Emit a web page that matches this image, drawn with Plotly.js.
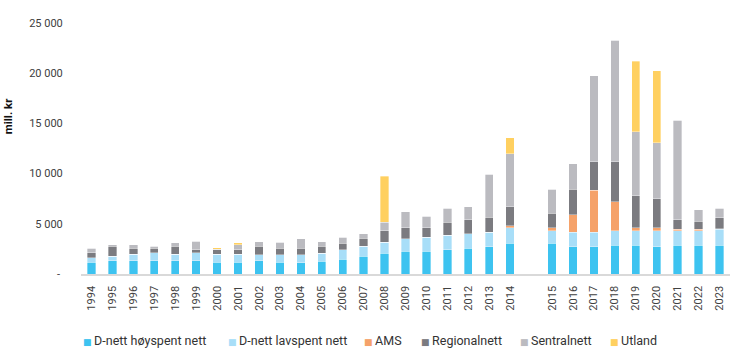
<!DOCTYPE html>
<html>
<head>
<meta charset="utf-8">
<script src="https://cdn.plot.ly/plotly-3.0.1.min.js"></script>
<style>
html,body{margin:0;padding:0;background:#fff;}
#chart{width:730px;height:363px;}
</style>
</head>
<body>
<div id="chart"></div>
<script>
// Categories (blank slot separates 2014 and 2015)
const years = ['1994','1995','1996','1997','1998','1999','2000','2001','2002','2003','2004','2005','2006','2007','2008','2009','2010','2011','2012','2013','2014',' ','2015','2016','2017','2018','2019','2020','2021','2022','2023'];

// Series values, mill. kr
const dnettHoy = [1150,1330,1330,1330,1330,1330,1160,1160,1330,1160,1140,1290,1450,1790,2090,2250,2250,2420,2580,2720,3040,null,3040,2720,2720,2880,2880,2720,2880,2880,2880];
const dnettLav = [470,460,630,800,630,800,800,800,600,760,780,800,960,950,1090,1260,1430,1420,1420,1450,1590,null,1290,1460,1460,1450,1450,1610,1450,1450,1590];
const ams      = [0,0,0,0,0,0,0,0,0,0,0,0,0,0,0,0,0,0,0,0,170,null,270,1720,4140,2850,270,270,140,140,60];
const regional = [500,960,630,460,800,300,460,460,830,660,670,660,630,800,1150,1120,950,1290,1420,1460,1920,null,1460,2550,2850,3980,3210,2880,950,800,1060];
const sentral  = [450,170,330,170,330,830,40,500,430,600,940,470,640,470,800,1590,1130,1430,1290,4300,5240,null,2390,2550,8580,12100,6360,5570,9880,1120,960];
const utland   = [0,0,0,0,0,0,150,170,0,0,0,0,0,0,4610,0,0,0,0,0,1590,null,0,0,0,0,7030,7190,0,0,0];

const seriesNames = ['D-nett høyspent nett','D-nett lavspent nett','AMS','Regionalnett','Sentralnett','Utland'];
const seriesValues = [dnettHoy, dnettLav, ams, regional, sentral, utland];
const colors = ['#3DC3F0','#A8DEF8','#F5A26A','#7B7B80','#BBBBC0','#FFD060'];

const yTickVals = [0,5000,10000,15000,20000,25000];
const yTickText = ['-\u00a0','5 000','10 000','15 000','20 000','25 000'];

const traces = seriesNames.map((n,i)=>({
  type:'bar', name:n, x:years, y:seriesValues[i],
  marker:{color:colors[i], line:{color:'rgba(255,255,255,0.7)', width:0.5}},
  hoverinfo:'x+y+name'
}));

// Custom legend (small square + label)
const W = 649, left = 81, plotBottom = 274.3, plotH = 251;
const legendX = [81,226,362,419,518,608];
const legendY = 341;
const annotations = seriesNames.map((n,i)=>({
  xref:'paper', yref:'paper',
  x:(legendX[i]-left)/W, y:(plotBottom-legendY)/plotH,
  xanchor:'left', yanchor:'middle', showarrow:false,
  text:'<span style="color:'+colors[i]+';font-size:9px;font-family:DejaVu Sans">■</span>\u2009'+n,
  font:{family:'Roboto, sans-serif', size:12.5, color:'#333333'}
}));
annotations.push({
  xref:'paper', yref:'paper', x:(7.5-left)/W, y:(plotBottom-117)/plotH,
  xanchor:'center', yanchor:'middle', showarrow:false, textangle:-90,
  text:'<b>mill. kr</b>', font:{family:'Roboto, sans-serif', size:11.5, color:'#111'}
});

const layout = {
  width:730, height:363,
  margin:{l:81, r:0, t:23, b:89},
  barmode:'stack', bargap:0.6,
  showlegend:false,
  paper_bgcolor:'#fff', plot_bgcolor:'#fff',
  font:{family:'Roboto, sans-serif', size:11, color:'#404040'},
  xaxis:{
    type:'category', categoryorder:'array', categoryarray:years,
    tickangle:-90, ticks:'outside', ticklen:6, tickcolor:'rgba(0,0,0,0)',
    showline:true, linecolor:'#D9D9D9', linewidth:1.5,
    showgrid:false, zeroline:false,
    tickfont:{family:'Roboto, sans-serif', size:11, color:'#404040'}
  },
  yaxis:{
    range:[0,25000], tickvals:yTickVals, ticktext:yTickText,
    ticks:'outside', ticklen:15, tickcolor:'rgba(0,0,0,0)',
    showgrid:false, zeroline:false, showline:false,
    tickfont:{family:'Roboto, sans-serif', size:11, color:'#404040'}
  },
  annotations:annotations
};

Plotly.newPlot('chart', traces, layout, {displayModeBar:false, staticPlot:true});
</script>
</body>
</html>
